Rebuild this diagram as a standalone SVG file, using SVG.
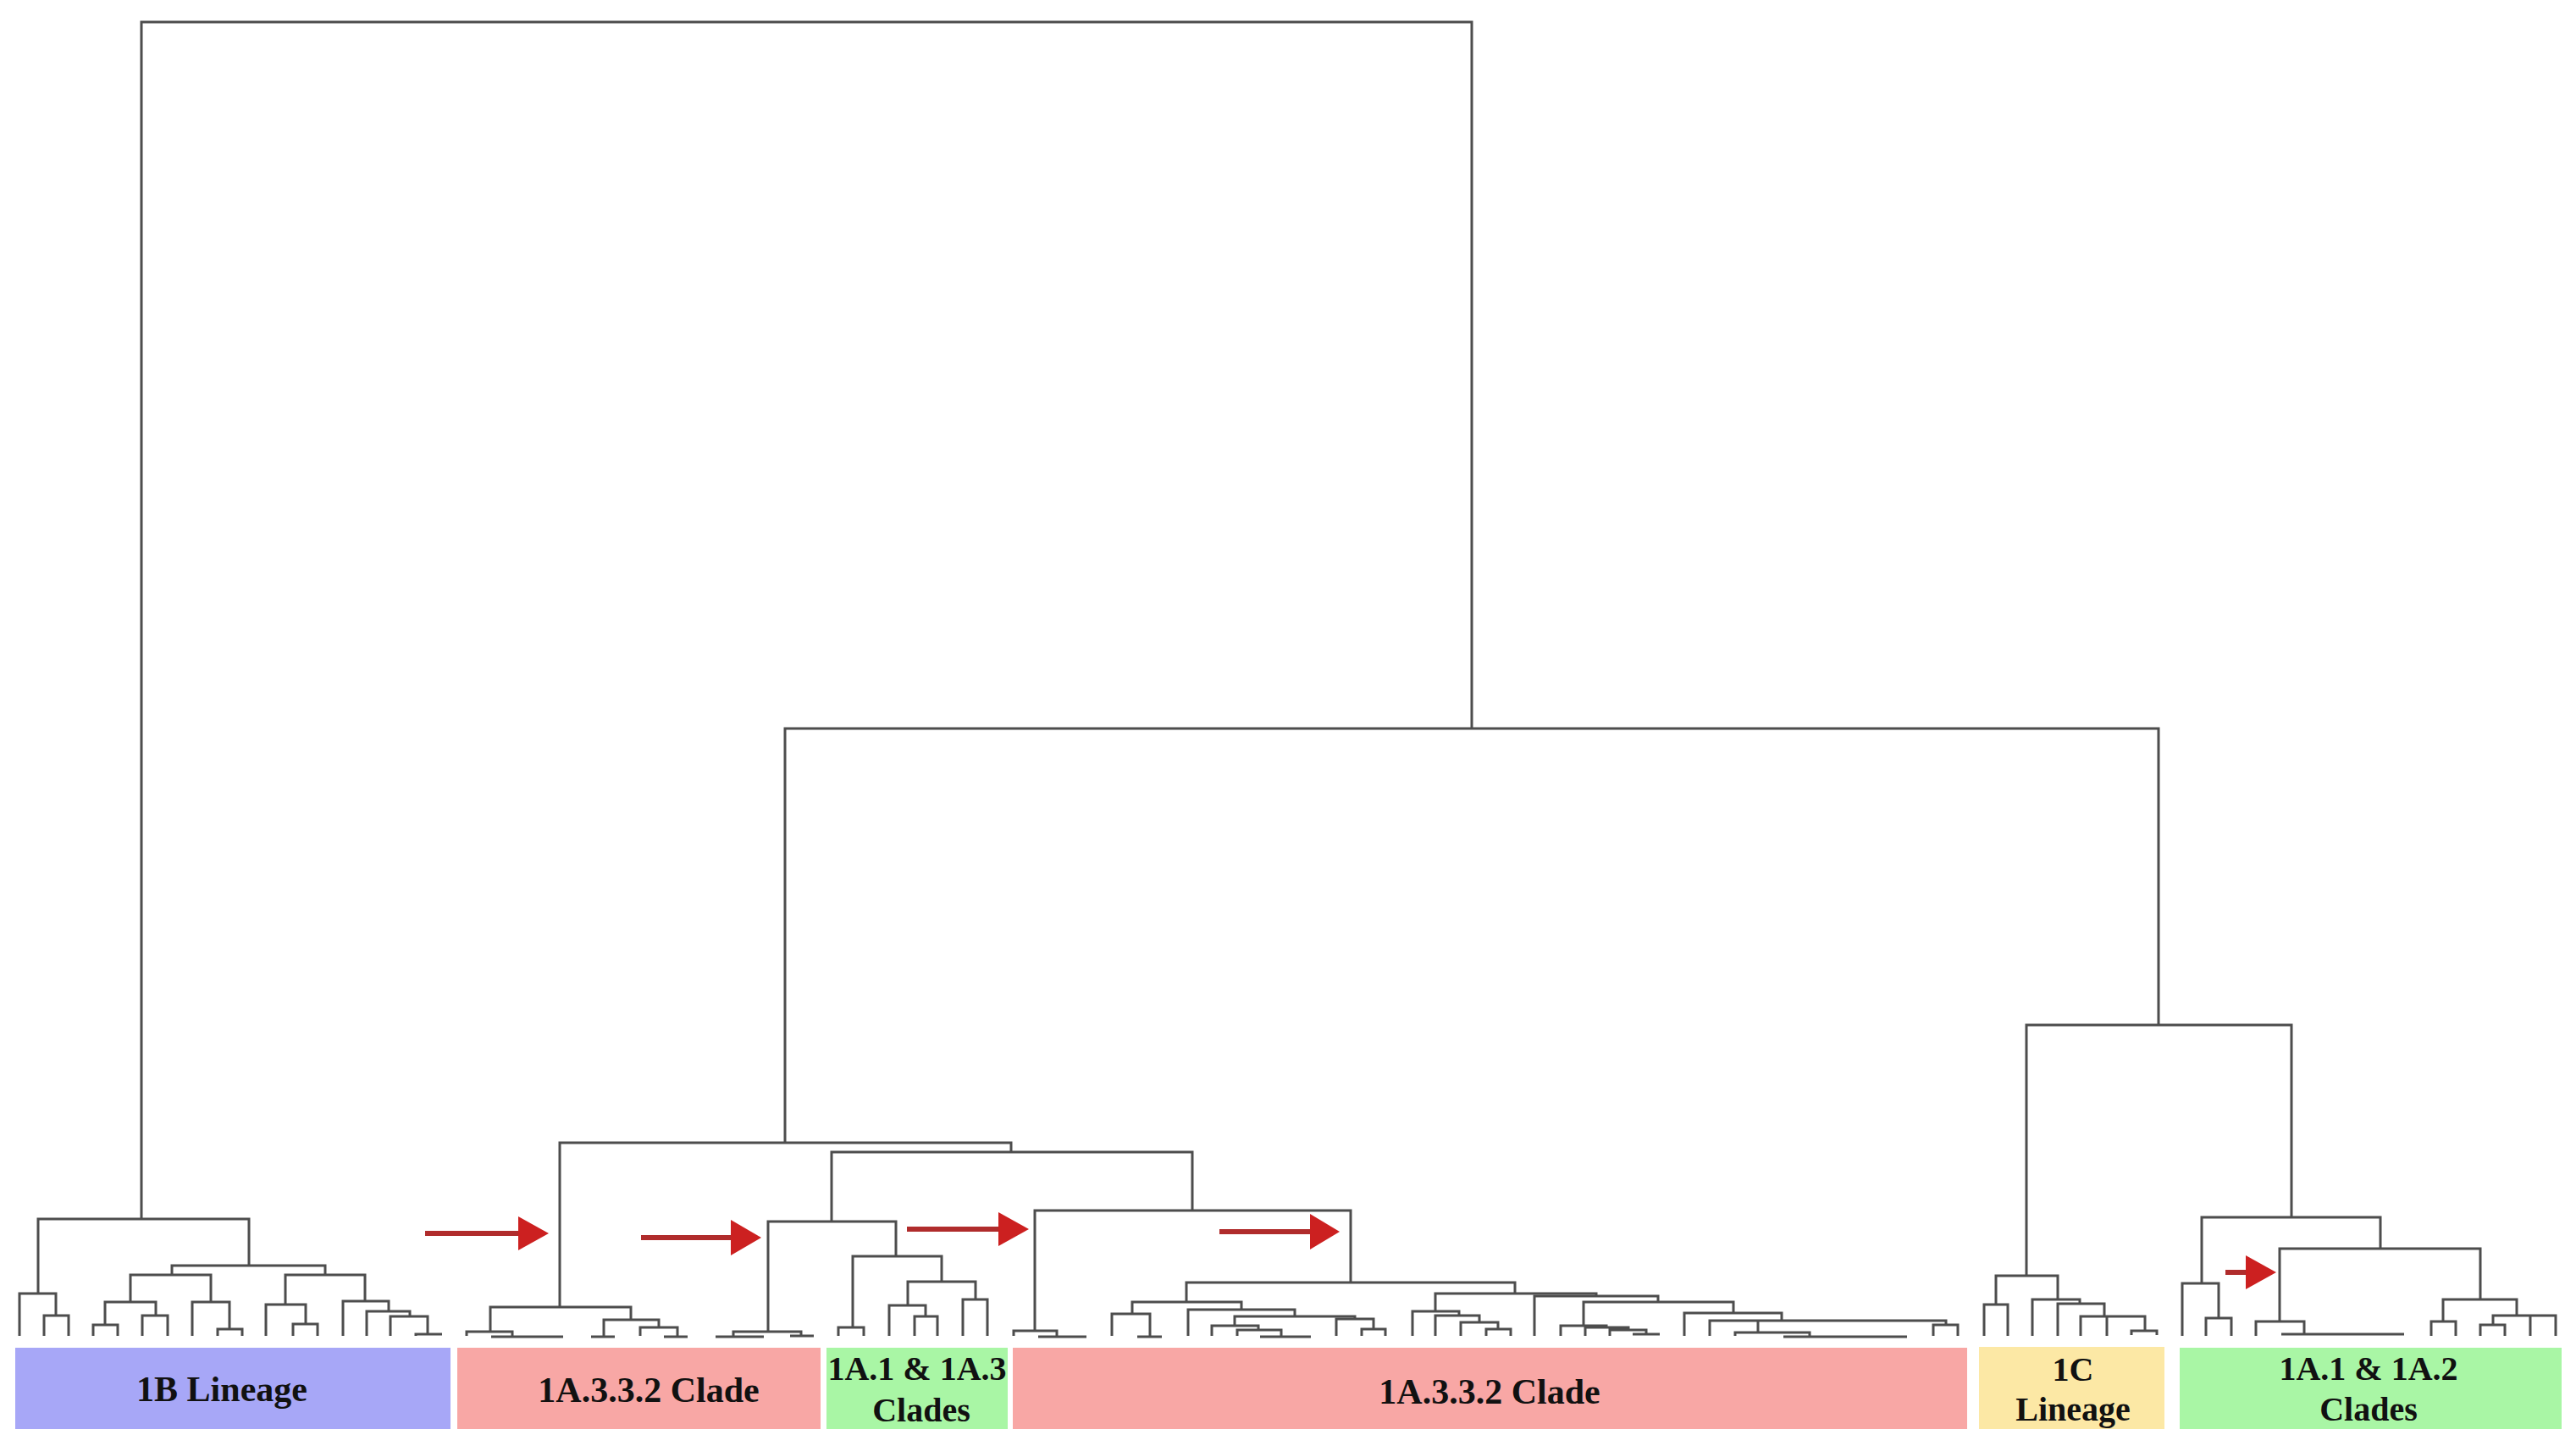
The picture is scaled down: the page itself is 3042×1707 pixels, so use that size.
<svg xmlns="http://www.w3.org/2000/svg" width="3042" height="1707" viewBox="0 0 3042 1707">
<style>
.tree path{fill:none;stroke:#4d4d4d;stroke-width:3;stroke-linejoin:miter}
.lbl{font-family:"Liberation Serif","Times New Roman",serif;font-weight:bold;fill:#111;text-anchor:middle}
.big{font-size:42px}
.sm{font-size:40px}
.shaft{stroke:#b02c2c;stroke-width:6}
.head{fill:#cc2020}
</style>
<rect width="3042" height="1707" fill="#fff"/>
<g id="connectors" class="tree">
<path d="M167,1439 V26 H1738 V860"/>
<path d="M927,1349 V860 H2549 V1210"/>
<!-- 1B lineage -->
<path d="M45,1527 V1439 H294 V1494"/>
<path d="M23,1577 V1527 H66 V1553 M52,1577 V1553 H81 V1577"/>
<path d="M203,1505 V1494 H384 V1505"/>
<path d="M154,1537 V1505 H249 V1537"/>
<path d="M124,1564 V1537 H184 V1553"/>
<path d="M110,1577 V1564 H139 V1577"/>
<path d="M168,1577 V1553 H198 V1577"/>
<path d="M227,1577 V1537 H271 V1569 M257,1577 V1569 H286 V1577"/>
<path d="M337,1540 V1505 H431 V1536"/>
<path d="M314,1577 V1540 H361 V1563 M346,1577 V1563 H375 V1577"/>
<path d="M405,1577 V1536 H459 V1548 M433,1577 V1548 H484 V1554 M461,1577 V1554 H505 V1575 M491,1577 V1575 H522"/>
<!-- first 1A.3.3.2 -->
<path d="M661,1543 V1349 H1194 V1360"/>
<path d="M579,1572 V1543 H745 V1558"/>
<path d="M551,1577 V1572 H605 V1578 M580,1578 H665"/>
<path d="M713,1578 V1558 H778 V1567 M698,1578 H726"/>
<path d="M756,1577 V1567 H800 V1578 M784,1578 H812"/>
<!-- 1A.1 & 1A.3 -->
<path d="M982,1442 V1360 H1408 V1429"/>
<path d="M907,1572 V1442 H1058 V1483"/>
<path d="M866,1578 V1572 H946 V1577 M845,1578 H902 M933,1577 H961"/>
<path d="M1007,1567 V1483 H1112 V1513"/>
<path d="M990,1577 V1567 H1020 V1577"/>
<path d="M1072,1541 V1513 H1152 V1534"/>
<path d="M1050,1577 V1541 H1093 V1554 M1080,1577 V1554 H1107 V1577"/>
<path d="M1137,1577 V1534 H1166 V1577"/>
<!-- second 1A.3.3.2 -->
<path d="M1222,1571 V1429 H1595 V1514"/>
<path d="M1197,1577 V1571 H1248 V1578 M1226,1578 H1283"/>
<path d="M1401,1537 V1514 H1789 V1527"/>
<path d="M1337,1551 V1537 H1466 V1546"/>
<path d="M1313,1577 V1551 H1358 V1578 M1343,1578 H1372"/>
<path d="M1403,1577 V1546 H1529 V1554"/>
<path d="M1458,1565 V1554 H1600 V1557"/>
<path d="M1431,1577 V1565 H1486 V1570 M1461,1577 V1570 H1513 V1578 M1488,1578 H1548"/>
<path d="M1578,1577 V1557 H1622 V1569 M1608,1577 V1569 H1636 V1577"/>
<path d="M1695,1548 V1527 H1885 V1530"/>
<path d="M1668,1577 V1548 H1723 V1553 M1695,1577 V1553 H1747 V1561 M1725,1577 V1561 H1769 V1569 M1755,1577 V1569 H1784 V1577"/>
<path d="M1812,1577 V1530 H1958 V1537"/>
<path d="M1870,1565 V1537 H2047 V1550"/>
<path d="M1843,1577 V1565 H1897 V1567 M1872,1577 V1567 H1923 V1570 M1901,1577 V1570 H1944 V1575 M1928,1575 H1960"/>
<path d="M1989,1577 V1550 H2104 V1559"/>
<path d="M2019,1577 V1559 H2298 V1564"/>
<path d="M2076,1559 V1573 M2049,1577 V1573 H2137 V1578 M2106,1578 H2252"/>
<path d="M2283,1577 V1564 H2312 V1577"/>
<!-- 1C -->
<path d="M2393,1506 V1210 H2706 V1437"/>
<path d="M2357,1540 V1506 H2430 V1534"/>
<path d="M2343,1577 V1540 H2371 V1577"/>
<path d="M2400,1577 V1534 H2456 V1539"/>
<path d="M2430,1577 V1539 H2485 V1554"/>
<path d="M2457,1577 V1554 H2533 V1571 M2488,1554 V1577 M2517,1576 V1571 H2547 V1576"/>
<!-- 1A.1 & 1A.2 -->
<path d="M2600,1515 V1437 H2811 V1474"/>
<path d="M2577,1577 V1515 H2620 V1556 M2605,1577 V1556 H2635 V1577"/>
<path d="M2692,1560 V1474 H2929 V1534"/>
<path d="M2664,1577 V1560 H2721 V1575 M2694,1575 H2839"/>
<path d="M2885,1560 V1534 H2972 V1553"/>
<path d="M2871,1577 V1560 H2900 V1577"/>
<path d="M2944,1564 V1553 H3018 V1577 M2988,1553 V1577"/>
<path d="M2929,1577 V1564 H2958 V1577"/>
</g>
<g id="arrows">
<line class="shaft" x1="502" y1="1456" x2="616" y2="1456"/><polygon class="head" points="612,1436 648,1456 612,1476"/>
<line class="shaft" x1="757" y1="1461" x2="866" y2="1461"/><polygon class="head" points="863,1440 899,1461 863,1482"/>
<line class="shaft" x1="1071" y1="1451" x2="1182" y2="1451"/><polygon class="head" points="1179,1431 1215,1451 1179,1471"/>
<line class="shaft" x1="1440" y1="1454" x2="1549" y2="1454"/><polygon class="head" points="1547,1433 1582,1454 1547,1475"/>
<line class="shaft" x1="2628" y1="1502" x2="2654" y2="1502"/><polygon class="head" points="2652,1482 2688,1502 2652,1522"/>
</g>
<g id="node-1B">
<rect x="18" y="1591" width="514" height="96" fill="#a7a7f7"/>
<text class="lbl big" x="262" y="1654">1B Lineage</text>
</g>
<g id="node-1A332-a">
<rect x="540" y="1591" width="429" height="96" fill="#f8a7a5"/>
<text class="lbl big" x="766" y="1655">1A.3.3.2 Clade</text>
</g>
<g id="node-1A1-1A3">
<rect x="976" y="1591" width="214" height="96" fill="#a9f6a5"/>
<text class="lbl sm" x="1083" y="1629">1A.1 &amp; 1A.3</text>
<text class="lbl sm" x="1088" y="1678">Clades</text>
</g>
<g id="node-1A332-b">
<rect x="1196" y="1591" width="1127" height="96" fill="#f8a7a5"/>
<text class="lbl big" x="1759" y="1657">1A.3.3.2 Clade</text>
</g>
<g id="node-1C">
<rect x="2337" y="1590" width="219" height="97" fill="#fce8a5"/>
<text class="lbl sm" x="2448" y="1630">1C</text>
<text class="lbl sm" x="2448" y="1677">Lineage</text>
</g>
<g id="node-1A1-1A2">
<rect x="2574" y="1591" width="451" height="96" fill="#a9f6a5"/>
<text class="lbl sm" x="2797" y="1629">1A.1 &amp; 1A.2</text>
<text class="lbl sm" x="2797" y="1677">Clades</text>
</g>
</svg>
